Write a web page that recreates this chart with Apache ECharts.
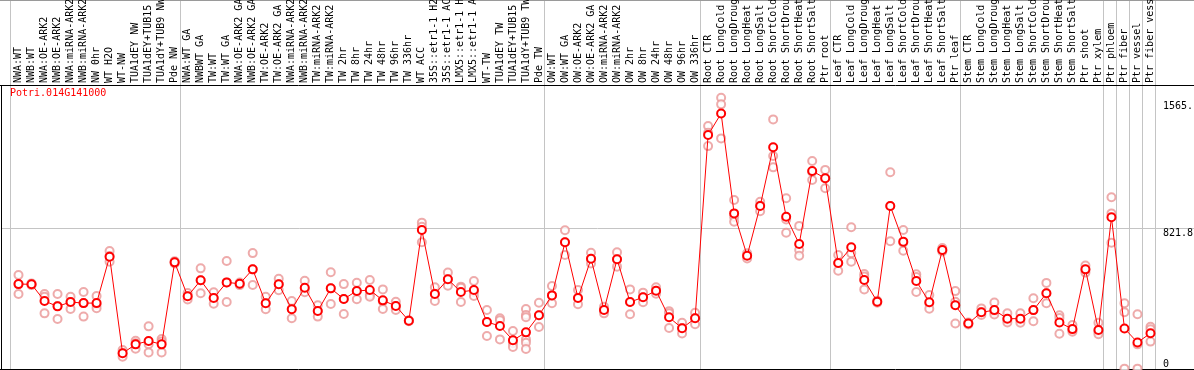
<!DOCTYPE html>
<html><head><meta charset="utf-8">
<script src="https://cdn.jsdelivr.net/npm/echarts@6/dist/echarts.min.js"></script>
<style>html,body{margin:0;padding:0;background:#fff;overflow:hidden}#c{width:1194px;height:370px}</style>
</head><body><div id="c"></div>
<script>
const geneName = 'Potri.014G141000';
const categories = [
 'NWA:WT','NWB:WT','NWA:OE-ARK2','NWB:OE-ARK2','NWA:miRNA-ARK2','NWB:miRNA-ARK2','NW 0hr','WT H2O','WT-NW','TUA1dEY NW','TUA1dEY+TUB15 NW','TUA1dY+TUB9 NW','Pde NW',
 'NWA:WT GA','NWBWT GA','TW:WT','TW:WT GA','NWA:OE-ARK2 GA','NWB:OE-ARK2 GA','TW:OE-ARK2','TW:OE-ARK2 GA','NWA:miRNA-ARK2 GA','NWB:miRNA-ARK2 GA','TW:miRNA-ARK2','TW:miRNA-ARK2 GA',
 'TW 2hr','TW 8hr','TW 24hr','TW 48hr','TW 96hr','TW 336hr','WT ACC','35S::etr1-1 H2O','35S::etr1-1 ACC','LMX5::etr1-1 H2O','LMX5::etr1-1 ACC','WT-TW','TUA1dEY TW','TUA1dEY+TUB15 TW','TUA1dY+TUB9 TW','Pde TW',
 'OW:WT','OW:WT GA','OW:OE-ARK2','OW:OE-ARK2 GA','OW:miRNA-ARK2','OW:miRNA-ARK2 GA','OW 2hr','OW 8hr','OW 24hr','OW 48hr','OW 96hr','OW 336hr',
 'Root CTR','Root LongCold','Root LongDrought','Root LongHeat','Root LongSalt','Root ShortCold','Root ShortDrought','Root ShortHeat','Root ShortSalt','Ptr root',
 'Leaf CTR','Leaf LongCold','Leaf LongDrought','Leaf LongHeat','Leaf LongSalt','Leaf ShortCold','Leaf ShortDrought','Leaf ShortHeat','Leaf ShortSalt','Ptr leaf',
 'Stem CTR','Stem LongCold','Stem LongDrought','Stem LongHeat','Stem LongSalt','Stem ShortCold','Stem ShortDrought','Stem ShortHeat','Stem ShortSalt','Ptr shoot','Ptr xylem',
 'Ptr phloem','Ptr fiber','Ptr vessel','Ptr fiber vessel'
];
const meanValues = [
 496,495,397,366,391,385,385,656,92,144,164,144,623,
 425,518,415,506,498,582,384,495,349,475,339,471,
 409,456,461,401,368,282,812,438,524,450,461,275,251,168,214,314,
 430,740,415,644,345,641,391,419,457,302,238,296,
 1367,1493,909,662,952,1295,889,730,1157,1114,
 619,711,520,393,952,744,514,390,695,372,
 266,331,344,294,294,344,442,272,233,582,228,
 886,237,155,209
];
const replicateValues = [
 [549,496,438],[500,495,490],[438,422,325],[438,368,292],[422,391,350],[450,385,306],[426,375,355],[689,660,627],[111,92,72],[165,150,118],[249,145,97],[175,160,97],[630,623,616],
 [444,425,406],[588,518,442],[448,415,381],[631,506,391],[505,498,490],[677,582,491],[422,384,349],[527,495,460],[397,352,296],[516,470,448],[372,339,306],[565,471,380],
 [496,409,321],[504,456,407],[520,432,422],[465,395,350],[393,368,345],[285,282,279],[855,831,740],[477,440,397],[563,524,487],[481,475,391],[514,450,426],[345,275,193],[296,285,173],[222,150,128],[350,315,302,173,154,117],[387,314,245],
 [485,430,384],[810,740,666],[461,415,378],[679,644,617],[364,345,325],[682,641,598],[465,391,320],[446,419,390],[477,457,440],[338,325,240],[270,240,208],[329,298,261],
 [1419,1380,1302],[1585,1546,1347],[987,888,860],[676,662,646],[977,954,921],[1458,1244,1178],[997,874,796],[836,695,662],[1215,1151,1104],[1163,1114,1056],
 [666,619,574],[828,676,627],[555,540,465],[399,393,387],[1149,952,746],[812,737,691],[553,537,450],[432,384,352],[707,695,686],[455,393,266],
 [272,266,260],[354,331,315],[388,333,318],[325,288,272],[325,288,270],[413,344,279],[503,442,384],[314,298,206],[257,227,218],[604,580,563],[270,218,203],
 [1003,909,738],[384,331,2],[320,144,2],[247,232,160]
];
const groupBoundaries = [0,13,41,53,63,73,84,85,86,87,88];
const yTickValues = [821.8, 1565];
const yTickLabels = ['821.8', '1565.'];
const yZeroValue = [0];
const yZeroLabel = '0';
const yMax = 1659;

const mono = 'DejaVu Sans Mono';
const chart = echarts.init(document.getElementById('c'), null, {renderer: 'canvas'});
const repPoints = [];
replicateValues.forEach((arr, i) => arr.forEach(v => repPoints.push([i, v])));

const baseY = {
  type: 'value', min: 0, max: yMax, position: 'right',
  axisLine: {show: false}, axisTick: {show: false}, splitLine: {show: false}
};
chart.setOption({
  animation: false,
  title: {text: geneName, left: 10, top: 88, padding: 0,
    textStyle: {color: '#ff0000', fontFamily: mono, fontSize: 10, fontWeight: 'normal'}},
  grid: {left: 12, right: 37, top: 85, bottom: 1, containLabel: false, outerBoundsMode: 'none'},
  xAxis: {
    type: 'category', data: categories, position: 'top', boundaryGap: true,
    axisLine: {show: false}, axisTick: {show: false}, splitLine: {show: false},
    axisLabel: {interval: 0, rotate: 90, margin: 2, fontFamily: mono, fontSize: 10, color: '#000', hideOverlap: false}
  },
  yAxis: [
    Object.assign({}, baseY, {axisLabel: {customValues: yTickValues, showMinLabel: true, showMaxLabel: true,
      formatter: v => { const k = yTickValues.indexOf(v); return k >= 0 ? yTickLabels[k] : ''; },
      verticalAlign: 'top', align: 'left', margin: 6, fontFamily: mono, fontSize: 10, color: '#000'}}),
    Object.assign({}, baseY, {axisLabel: {customValues: yZeroValue, formatter: () => yZeroLabel,
      verticalAlign: 'bottom', align: 'left', margin: 6, fontFamily: mono, fontSize: 10, color: '#000'}})
  ],
  series: [
    {type: 'scatter', data: repPoints, symbol: 'emptyCircle', symbolSize: 8, z: 2,
     itemStyle: {color: '#ea9696', borderColor: '#ea9696', borderWidth: 1.3}, silent: true},
    {type: 'line', data: meanValues, symbol: 'emptyCircle', symbolSize: 8, z: 3,
     lineStyle: {color: '#ff0000', width: 1}, itemStyle: {color: '#ff0000', borderColor: '#ff0000', borderWidth: 1.5}, silent: true}
  ]
});

const c0 = chart.convertToPixel({xAxisIndex: 0}, categories[0]);
const c1 = chart.convertToPixel({xAxisIndex: 0}, categories[1]);
const band = c1 - c0;
const yBottom = chart.convertToPixel({yAxisIndex: 0}, 0);
const yTop = chart.convertToPixel({yAxisIndex: 0}, yMax);
const yMid = chart.convertToPixel({yAxisIndex: 0}, yTickValues[0]);
const W = 1194;
const crisp = v => Math.round(v) + 0.5;
const g = [];
groupBoundaries.forEach(b => {
  const x = crisp(c0 - band / 2 + b * band - 1.6);
  g.push({type: 'line', shape: {x1: x, y1: 0, x2: x, y2: yBottom}, style: {stroke: '#c4c4c4', lineWidth: 1}, z: 0});
});
g.push({type: 'line', shape: {x1: 1, y1: crisp(yMid), x2: W, y2: crisp(yMid)}, style: {stroke: '#c4c4c4', lineWidth: 1}, z: 0});
g.push({type: 'line', shape: {x1: 0, y1: 0.5, x2: W, y2: 0.5}, style: {stroke: '#9a9a9a', lineWidth: 1}, z: 0});
g.push({type: 'line', shape: {x1: 0, y1: crisp(yTop), x2: W, y2: crisp(yTop)}, style: {stroke: '#000', lineWidth: 1}, z: 1});
g.push({type: 'line', shape: {x1: 0, y1: crisp(yBottom - 0.5), x2: W, y2: crisp(yBottom - 0.5)}, style: {stroke: '#000', lineWidth: 1}, z: 1});
g.push({type: 'line', shape: {x1: 1.5, y1: yTop, x2: 1.5, y2: yBottom}, style: {stroke: '#000', lineWidth: 1}, z: 1});
chart.setOption({graphic: {elements: g}});
</script></body></html>
